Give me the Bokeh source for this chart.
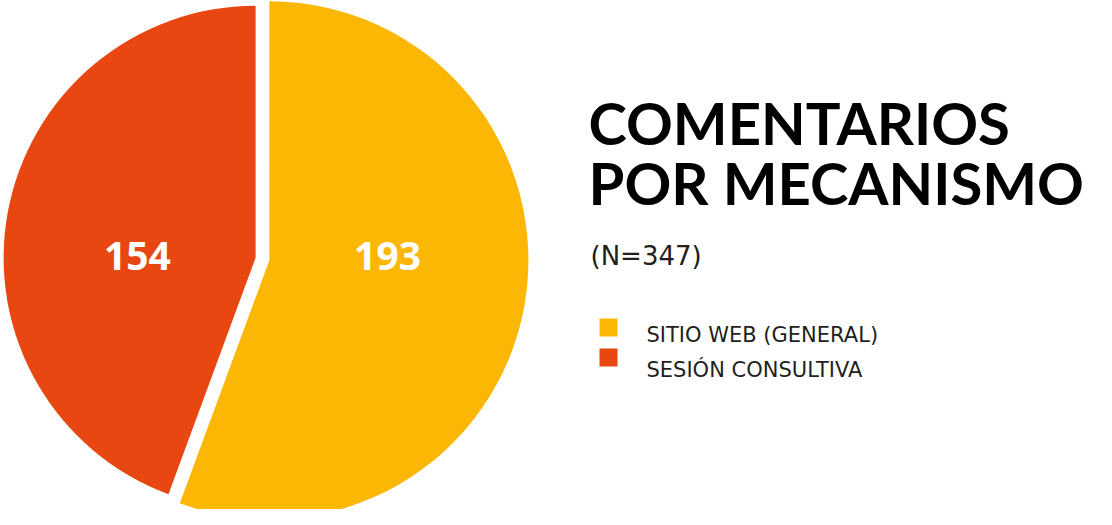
import numpy as np
from bokeh.plotting import figure
from bokeh.models import ColumnDataSource, Range1d
from bokeh.core.properties import value
from bokeh.embed import file_html
from bokeh.resources import INLINE

# ---- data ----
categories = ["SITIO WEB (GENERAL)", "SESIÓN CONSULTIVA"]
counts = [193, 154]
colors = ["#FBB703", "#E84711"]
title_lines = ["COMENTARIOS", "POR MECANISMO"]
subtitle = "(N=%d)" % sum(counts)

# ---- layout (pixel units; data space == screen pixels) ----
W, H = 1096, 509
cx, cy = 262, 250.5          # pie centre
explode = 7
radii = [259, 252]
label_r = 120
label_base = 253.5

p = figure(width=W, height=H, x_range=Range1d(0, W), y_range=Range1d(0, H),
           output_backend="svg", toolbar_location=None, min_border=0,
           background_fill_color="white", border_fill_color="white")
p.axis.visible = False
p.grid.visible = False
p.outline_line_color = None

vals = np.array(counts, dtype=float)
frac = vals / vals.sum()
cum = np.cumsum(frac)
prev = np.concatenate([[0.0], cum[:-1]])
ends = np.radians(90 - prev * 360)
starts = np.radians(90 - cum * 360)
bis = (starts + ends) / 2
wx = cx + explode * np.cos(bis)
wy = cy + explode * np.sin(bis)

src = ColumnDataSource(dict(x=wx, y=wy, r=radii, start=starts, end=ends,
                            color=colors, cat=categories,
                            lx=wx + label_r * np.cos(bis),
                            ly=[label_base] * len(counts),
                            txt=[str(c) for c in counts]))
p.wedge(x="x", y="y", radius="r", start_angle="start", end_angle="end",
        fill_color="color", line_color=None, source=src)
p.text(x="lx", y="ly", text="txt", source=src, text_color="white",
       text_font=value("Open Sans"), text_font_style="bold",
       text_font_size="39px", text_align="center", text_baseline="alphabetic")

# title
p.text(x=[588, 588], y=[387, 327], text=title_lines, text_color="#000000",
       text_font=value("Lato"), text_font_style="bold",
       text_font_size="58px", text_align="left", text_baseline="alphabetic")
# subtitle
p.text(x=[590], y=[254], text=[subtitle], text_color="#231f20",
       text_font=value("DejaVu Sans"), text_font_size="26px",
       text_align="left", text_baseline="alphabetic")

# legend
n = len(categories)
leg = ColumnDataSource(dict(sx=[608] * n, sy=[182 - 30 * i for i in range(n)],
                            tx=[646] * n, ty=[175 - 35 * i for i in range(n)],
                            color=colors, cat=categories))
p.rect(x="sx", y="sy", width=18, height=18, fill_color="color",
       line_color=None, source=leg)
p.text(x="tx", y="ty", text="cat", source=leg, text_color="#231f20",
       text_font=value("DejaVu Sans"), text_font_size="21px",
       text_align="left", text_baseline="alphabetic")

open("out.html", "w").write(file_html(p, INLINE))
